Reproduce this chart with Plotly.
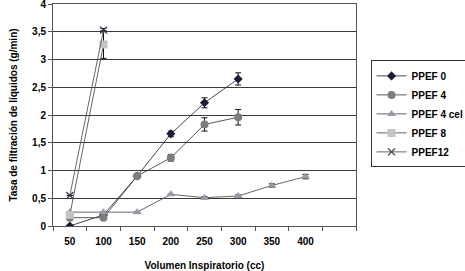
import plotly.graph_objects as go

x_cats = [50, 100, 150, 200, 250, 300, 350, 400]
y_tick_vals = [0, 0.5, 1, 1.5, 2, 2.5, 3, 3.5, 4]
y_tick_text = ["0", "0,5", "1", "1,5", "2", "2,5", "3", "3,5", "4"]

ppef0_x = [50, 100, 150, 200, 250, 300]
ppef0_y = [0.0, 0.2, 0.9, 1.66, 2.22, 2.65]
ppef0_err = [0, 0, 0.04, 0.05, 0.09, 0.11]

ppef4_x = [50, 100, 150, 200, 250, 300]
ppef4_y = [0.15, 0.15, 0.9, 1.23, 1.83, 1.96]
ppef4_err = [0, 0.03, 0.04, 0.06, 0.12, 0.14]

ppef4cel_x = [50, 100, 150, 200, 250, 300, 350, 400]
ppef4cel_y = [0.25, 0.25, 0.25, 0.57, 0.51, 0.54, 0.73, 0.89]
ppef4cel_err = [0, 0, 0, 0, 0.02, 0.02, 0.03, 0.04]

ppef8_x = [50, 100]
ppef8_y = [0.2, 3.27]
ppef8_err = [0, 0.25]

ppef12_x = [50, 100]
ppef12_y = [0.55, 3.53]
ppef12_err = [0, 0.03]

series = [
    ("PPEF 0", ppef0_x, ppef0_y, ppef0_err, "diamond", 7, "#1c1c38", "#333333"),
    ("PPEF 4", ppef4_x, ppef4_y, ppef4_err, "circle", 8, "#7d7d7d", "#444444"),
    ("PPEF 4 cel", ppef4cel_x, ppef4cel_y, ppef4cel_err, "triangle-up", 8, "#9a9aa6", "#555555"),
    ("PPEF 8", ppef8_x, ppef8_y, ppef8_err, "square", 8, "#c4c4c4", "#555555"),
    ("PPEF12", ppef12_x, ppef12_y, ppef12_err, "x-thin", 7, "#3a3a50", "#555555"),
]

fig = go.Figure()
for name, xs, ys, err, sym, size, mcol, lcol in series:
    marker = dict(symbol=sym, size=size, color=mcol)
    if sym == "x-thin":
        marker["line"] = dict(width=1.3, color=mcol)
    fig.add_trace(go.Scatter(
        x=xs, y=ys, name=name, mode="lines+markers",
        line=dict(color=lcol, width=0.9),
        marker=marker,
        error_y=dict(type="data", array=err, visible=True,
                     color="#111111", thickness=1, width=3),
    ))

FONT = "Arial, Liberation Sans, sans-serif"

fig.update_layout(
    width=465, height=271,
    margin=dict(l=53, r=109, t=4, b=45, autoexpand=False),
    paper_bgcolor="white", plot_bgcolor="white",
    font=dict(family=FONT, size=10, color="#000000", weight="bold"),
    showlegend=True,
    legend=dict(
        x=1.048, y=0.505, xanchor="left", yanchor="middle",
        bordercolor="#333333", borderwidth=1, bgcolor="white",
        font=dict(family=FONT, size=10, color="#000000", weight="bold"),
        itemwidth=30, tracegroupgap=0,
    ),
    xaxis=dict(
        range=[25, 475],
        tickvals=x_cats, ticktext=[str(v) for v in x_cats],
        ticks="", showgrid=False,
        showline=True, linecolor="#555555", linewidth=1, mirror=True,
        zeroline=False, automargin=False,
        minor=dict(ticks="outside", tick0=25, dtick=50, ticklen=4, tickcolor="#555555", showgrid=False),
        title=dict(text="Volumen Inspiratorio (cc)", standoff=18,
                   font=dict(family=FONT, size=10, weight="bold")),
        tickfont=dict(size=10),
        ticklabelstandoff=6,
        ticklabeloverflow="allow",
        fixedrange=True,
    ),
    yaxis=dict(
        range=[0, 4.0001],
        tickvals=y_tick_vals, ticktext=y_tick_text,
        ticks="outside", ticklen=4, tickcolor="#555555",
        showgrid=True, gridcolor="#3a3a3a", gridwidth=1,
        showline=True, linecolor="#555555", linewidth=1, mirror=True,
        zeroline=False, automargin=False,
        title=dict(text="Tasa de filtración de líquidos (g/min)", standoff=12,
                   font=dict(family=FONT, size=10, weight="bold")),
        tickfont=dict(size=10),
        ticklabeloverflow="allow",
        fixedrange=True,
    ),
)

fig.write_html("out.html", config={"displayModeBar": False},
               post_script="document.body.style.margin='0px';")
